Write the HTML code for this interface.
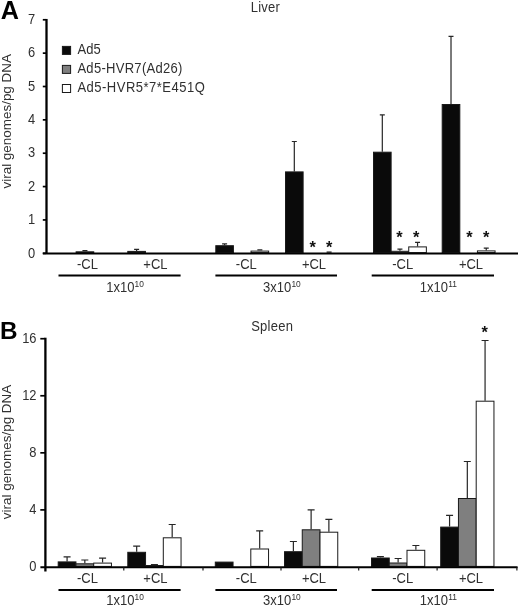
<!DOCTYPE html>
<html><head><meta charset="utf-8"><title>Chart</title>
<style>
html,body{margin:0;padding:0;background:#fff;}
body{width:520px;height:607px;overflow:hidden;}
svg{display:block;font-family:"Liberation Sans",sans-serif;will-change:transform;opacity:0.999;}
</style></head>
<body>
<svg width="520" height="607" viewBox="0 0 520 607">
<rect width="520" height="607" fill="#fff"/>
<g id="bars">
<path d="M84.93 251.30V250.60M82.43 250.60H87.43" stroke="#262626" stroke-width="1.2" fill="none"/>
<rect x="76.12" y="251.80" width="17.62" height="0.80" fill="#7f7f7f" stroke="#1a1a1a" stroke-width="1"/>
<path d="M136.61 250.90V249.40M134.11 249.40H139.11" stroke="#262626" stroke-width="1.2" fill="none"/>
<rect x="127.80" y="251.40" width="17.62" height="1.20" fill="#0a0a0a" stroke="#1a1a1a" stroke-width="1"/>
<path d="M224.61 245.20V243.80M222.11 243.80H227.11" stroke="#262626" stroke-width="1.2" fill="none"/>
<rect x="215.80" y="245.70" width="17.62" height="6.90" fill="#0a0a0a" stroke="#1a1a1a" stroke-width="1"/>
<path d="M259.85 250.60V249.80M257.35 249.80H262.35" stroke="#262626" stroke-width="1.2" fill="none"/>
<rect x="251.04" y="251.10" width="17.62" height="1.50" fill="#ffffff" stroke="#1a1a1a" stroke-width="1"/>
<path d="M294.31 171.40V141.50M291.81 141.50H296.81" stroke="#262626" stroke-width="1.2" fill="none"/>
<rect x="285.50" y="171.90" width="17.62" height="80.70" fill="#0a0a0a" stroke="#1a1a1a" stroke-width="1"/>
<path d="M382.31 151.70V114.80M379.81 114.80H384.81" stroke="#262626" stroke-width="1.2" fill="none"/>
<rect x="373.50" y="152.20" width="17.62" height="100.40" fill="#0a0a0a" stroke="#1a1a1a" stroke-width="1"/>
<path d="M399.93 250.80V249.20M397.43 249.20H402.43" stroke="#262626" stroke-width="1.2" fill="none"/>
<rect x="391.12" y="251.30" width="17.62" height="1.30" fill="#7f7f7f" stroke="#1a1a1a" stroke-width="1"/>
<path d="M417.55 246.40V242.30M415.05 242.30H420.05" stroke="#262626" stroke-width="1.2" fill="none"/>
<rect x="408.74" y="246.90" width="17.62" height="5.70" fill="#ffffff" stroke="#1a1a1a" stroke-width="1"/>
<path d="M451.01 104.00V36.30M448.51 36.30H453.51" stroke="#262626" stroke-width="1.2" fill="none"/>
<rect x="442.20" y="104.50" width="17.62" height="148.10" fill="#0a0a0a" stroke="#1a1a1a" stroke-width="1"/>
<path d="M486.25 250.40V248.10M483.75 248.10H488.75" stroke="#262626" stroke-width="1.2" fill="none"/>
<rect x="477.44" y="250.90" width="17.62" height="1.70" fill="#ffffff" stroke="#1a1a1a" stroke-width="1"/>
<rect x="326.6" y="251.5" width="5" height="1.2" fill="#111"/>
<text x="312.60" y="252.90" text-anchor="middle" font-size="16.4" font-weight="bold" fill="#111">*</text>
<text x="329.10" y="252.90" text-anchor="middle" font-size="16.4" font-weight="bold" fill="#111">*</text>
<text x="399.40" y="243.00" text-anchor="middle" font-size="16.4" font-weight="bold" fill="#111">*</text>
<text x="416.20" y="243.00" text-anchor="middle" font-size="16.4" font-weight="bold" fill="#111">*</text>
<text x="469.40" y="243.00" text-anchor="middle" font-size="16.4" font-weight="bold" fill="#111">*</text>
<text x="486.20" y="243.00" text-anchor="middle" font-size="16.4" font-weight="bold" fill="#111">*</text>
<path d="M67.08 561.40V556.80M63.58 556.80H70.58" stroke="#262626" stroke-width="1.2" fill="none"/>
<rect x="58.20" y="561.90" width="17.75" height="4.50" fill="#0a0a0a" stroke="#1a1a1a" stroke-width="1"/>
<path d="M84.83 563.30V560.00M81.33 560.00H88.33" stroke="#262626" stroke-width="1.2" fill="none"/>
<rect x="75.95" y="563.80" width="17.75" height="2.60" fill="#7f7f7f" stroke="#1a1a1a" stroke-width="1"/>
<path d="M102.58 562.60V558.20M99.08 558.20H106.08" stroke="#262626" stroke-width="1.2" fill="none"/>
<rect x="93.70" y="563.10" width="17.75" height="3.30" fill="#ffffff" stroke="#1a1a1a" stroke-width="1"/>
<path d="M136.68 551.80V546.20M133.18 546.20H140.18" stroke="#262626" stroke-width="1.2" fill="none"/>
<rect x="127.80" y="552.30" width="17.75" height="14.10" fill="#0a0a0a" stroke="#1a1a1a" stroke-width="1"/>
<path d="M154.43 565.00V564.60M150.93 564.60H157.93" stroke="#262626" stroke-width="1.2" fill="none"/>
<rect x="145.55" y="565.50" width="17.75" height="0.90" fill="#7f7f7f" stroke="#1a1a1a" stroke-width="1"/>
<path d="M172.18 537.30V524.50M168.68 524.50H175.68" stroke="#262626" stroke-width="1.2" fill="none"/>
<rect x="163.30" y="537.80" width="17.75" height="28.60" fill="#ffffff" stroke="#1a1a1a" stroke-width="1"/>
<rect x="215.30" y="562.10" width="17.75" height="4.30" fill="#0a0a0a" stroke="#1a1a1a" stroke-width="1"/>
<path d="M259.68 548.50V530.80M256.18 530.80H263.18" stroke="#262626" stroke-width="1.2" fill="none"/>
<rect x="250.80" y="549.00" width="17.75" height="17.40" fill="#ffffff" stroke="#1a1a1a" stroke-width="1"/>
<path d="M293.38 551.20V541.50M289.88 541.50H296.88" stroke="#262626" stroke-width="1.2" fill="none"/>
<rect x="284.50" y="551.70" width="17.75" height="14.70" fill="#0a0a0a" stroke="#1a1a1a" stroke-width="1"/>
<path d="M311.12 529.30V509.80M307.62 509.80H314.62" stroke="#262626" stroke-width="1.2" fill="none"/>
<rect x="302.25" y="529.80" width="17.75" height="36.60" fill="#7f7f7f" stroke="#1a1a1a" stroke-width="1"/>
<path d="M328.88 531.70V519.40M325.38 519.40H332.38" stroke="#262626" stroke-width="1.2" fill="none"/>
<rect x="320.00" y="532.20" width="17.75" height="34.20" fill="#ffffff" stroke="#1a1a1a" stroke-width="1"/>
<path d="M380.38 557.50V556.60M376.88 556.60H383.88" stroke="#262626" stroke-width="1.2" fill="none"/>
<rect x="371.50" y="558.00" width="17.75" height="8.40" fill="#0a0a0a" stroke="#1a1a1a" stroke-width="1"/>
<path d="M398.12 562.50V558.50M394.62 558.50H401.62" stroke="#262626" stroke-width="1.2" fill="none"/>
<rect x="389.25" y="563.00" width="17.75" height="3.40" fill="#7f7f7f" stroke="#1a1a1a" stroke-width="1"/>
<path d="M415.88 549.80V545.50M412.38 545.50H419.38" stroke="#262626" stroke-width="1.2" fill="none"/>
<rect x="407.00" y="550.30" width="17.75" height="16.10" fill="#ffffff" stroke="#1a1a1a" stroke-width="1"/>
<path d="M449.57 526.60V515.30M446.07 515.30H453.07" stroke="#262626" stroke-width="1.2" fill="none"/>
<rect x="440.70" y="527.10" width="17.75" height="39.30" fill="#0a0a0a" stroke="#1a1a1a" stroke-width="1"/>
<path d="M467.32 498.00V461.50M463.82 461.50H470.82" stroke="#262626" stroke-width="1.2" fill="none"/>
<rect x="458.45" y="498.50" width="17.75" height="67.90" fill="#7f7f7f" stroke="#1a1a1a" stroke-width="1"/>
<path d="M485.07 400.70V340.50M481.57 340.50H488.57" stroke="#262626" stroke-width="1.2" fill="none"/>
<rect x="476.20" y="401.20" width="17.75" height="165.20" fill="#ffffff" stroke="#1a1a1a" stroke-width="1"/>
<text x="484.70" y="337.80" text-anchor="middle" font-size="16.4" font-weight="bold" fill="#111">*</text>
</g>
<g id="axes">
<path d="M46.5 18.95V253.6" stroke="#000" stroke-width="2.3" fill="none"/>
<path d="M42.8 253.6H518" stroke="#000" stroke-width="2" fill="none"/>
<path d="M42.8 253.30H46" stroke="#000" stroke-width="1.7"/>
<text transform="translate(35.30 257.50) scale(1 1.08)" font-size="12.9" text-anchor="end" fill="#303030">0</text>
<path d="M42.8 219.94H46" stroke="#000" stroke-width="1.7"/>
<text transform="translate(35.30 224.14) scale(1 1.08)" font-size="12.9" text-anchor="end" fill="#303030">1</text>
<path d="M42.8 186.58H46" stroke="#000" stroke-width="1.7"/>
<text transform="translate(35.30 190.78) scale(1 1.08)" font-size="12.9" text-anchor="end" fill="#303030">2</text>
<path d="M42.8 153.22H46" stroke="#000" stroke-width="1.7"/>
<text transform="translate(35.30 157.42) scale(1 1.08)" font-size="12.9" text-anchor="end" fill="#303030">3</text>
<path d="M42.8 119.86H46" stroke="#000" stroke-width="1.7"/>
<text transform="translate(35.30 124.06) scale(1 1.08)" font-size="12.9" text-anchor="end" fill="#303030">4</text>
<path d="M42.8 86.50H46" stroke="#000" stroke-width="1.7"/>
<text transform="translate(35.30 90.70) scale(1 1.08)" font-size="12.9" text-anchor="end" fill="#303030">5</text>
<path d="M42.8 53.14H46" stroke="#000" stroke-width="1.7"/>
<text transform="translate(35.30 57.34) scale(1 1.08)" font-size="12.9" text-anchor="end" fill="#303030">6</text>
<path d="M42.8 19.78H46" stroke="#000" stroke-width="1.7"/>
<text transform="translate(35.30 23.98) scale(1 1.08)" font-size="12.9" text-anchor="end" fill="#303030">7</text>
<path d="M45.4 337.7V571.5" stroke="#000" stroke-width="2.3" fill="none"/>
<path d="M40.4 567.15H517.6" stroke="#000" stroke-width="2" fill="none"/>
<text transform="translate(36.50 570.95) scale(1 1.08)" font-size="12.9" text-anchor="end" fill="#303030">0</text>
<path d="M40.3 509.89H45" stroke="#000" stroke-width="1.7"/>
<text transform="translate(36.50 513.89) scale(1 1.08)" font-size="12.9" text-anchor="end" fill="#303030">4</text>
<path d="M40.3 452.83H45" stroke="#000" stroke-width="1.7"/>
<text transform="translate(36.50 456.83) scale(1 1.08)" font-size="12.9" text-anchor="end" fill="#303030">8</text>
<path d="M40.3 395.77H45" stroke="#000" stroke-width="1.7"/>
<text transform="translate(36.50 399.77) scale(1 1.08)" font-size="12.9" text-anchor="end" fill="#303030">12</text>
<path d="M40.3 338.71H45" stroke="#000" stroke-width="1.7"/>
<text transform="translate(36.50 342.71) scale(1 1.08)" font-size="12.9" text-anchor="end" fill="#303030">16</text>
<path d="M123.8 567V570.6" stroke="#111" stroke-width="1.15"/>
<path d="M203.0 567V570.6" stroke="#111" stroke-width="1.15"/>
<path d="M281.0 567V570.6" stroke="#111" stroke-width="1.15"/>
<path d="M358.7 567V570.6" stroke="#111" stroke-width="1.15"/>
<path d="M437.1 567V570.6" stroke="#111" stroke-width="1.15"/>
<path d="M516.9 567V570.6" stroke="#111" stroke-width="1.15"/>
</g>
<g id="labels">
<path d="M58.5 275.6H180.6" stroke="#000" stroke-width="2"/>
<path d="M215.4 275.6H337" stroke="#000" stroke-width="2"/>
<path d="M371.7 275.6H494" stroke="#000" stroke-width="2"/>
<text transform="translate(87.50 268.70) scale(1 1.07)" font-size="13" text-anchor="middle" fill="#303030">-CL</text>
<text transform="translate(246.30 268.70) scale(1 1.07)" font-size="13" text-anchor="middle" fill="#303030">-CL</text>
<text transform="translate(402.70 268.70) scale(1 1.07)" font-size="13" text-anchor="middle" fill="#303030">-CL</text>
<text transform="translate(155.40 268.70) scale(1 1.07)" font-size="13" text-anchor="middle" fill="#303030">+CL</text>
<text transform="translate(314.00 268.70) scale(1 1.07)" font-size="13" text-anchor="middle" fill="#303030">+CL</text>
<text transform="translate(471.00 268.70) scale(1 1.07)" font-size="13" text-anchor="middle" fill="#303030">+CL</text>
<text transform="translate(106.20 292.00) scale(1 1.07)" font-size="13" fill="#303030">1x10<tspan font-size="8.4" dy="-4.7" dx="0.2">10</tspan></text>
<text transform="translate(263.00 292.00) scale(1 1.07)" font-size="13" fill="#303030">3x10<tspan font-size="8.4" dy="-4.7" dx="0.2">10</tspan></text>
<text transform="translate(419.80 292.00) scale(1 1.07)" font-size="13" fill="#303030">1x10<tspan font-size="8.4" dy="-4.7" dx="0.2">11</tspan></text>
<path d="M58.5 589.9H180.6" stroke="#000" stroke-width="2"/>
<path d="M215.4 589.9H337" stroke="#000" stroke-width="2"/>
<path d="M371.7 589.9H494" stroke="#000" stroke-width="2"/>
<text transform="translate(87.50 583.20) scale(1 1.07)" font-size="13" text-anchor="middle" fill="#303030">-CL</text>
<text transform="translate(246.30 583.20) scale(1 1.07)" font-size="13" text-anchor="middle" fill="#303030">-CL</text>
<text transform="translate(402.70 583.20) scale(1 1.07)" font-size="13" text-anchor="middle" fill="#303030">-CL</text>
<text transform="translate(155.40 583.20) scale(1 1.07)" font-size="13" text-anchor="middle" fill="#303030">+CL</text>
<text transform="translate(314.00 583.20) scale(1 1.07)" font-size="13" text-anchor="middle" fill="#303030">+CL</text>
<text transform="translate(471.00 583.20) scale(1 1.07)" font-size="13" text-anchor="middle" fill="#303030">+CL</text>
<text transform="translate(106.20 604.80) scale(1 1.07)" font-size="13" fill="#303030">1x10<tspan font-size="8.4" dy="-4.7" dx="0.2">10</tspan></text>
<text transform="translate(263.00 604.80) scale(1 1.07)" font-size="13" fill="#303030">3x10<tspan font-size="8.4" dy="-4.7" dx="0.2">10</tspan></text>
<text transform="translate(419.80 604.80) scale(1 1.07)" font-size="13" fill="#303030">1x10<tspan font-size="8.4" dy="-4.7" dx="0.2">11</tspan></text>
</g>
<g id="legend">
<rect x="62.4" y="46.4" width="8.2" height="8" fill="#0a0a0a" stroke="#1a1a1a" stroke-width="1"/>
<text transform="translate(77.40 53.60) scale(1 1.07)" font-size="13" letter-spacing="0.15" fill="#303030">Ad5</text>
<rect x="62.4" y="65.4" width="8.2" height="8" fill="#7f7f7f" stroke="#1a1a1a" stroke-width="1"/>
<text transform="translate(77.40 73.10) scale(1 1.07)" font-size="13" letter-spacing="0.3" fill="#303030">Ad5-HVR7(Ad26)</text>
<rect x="62.4" y="84.5" width="8.2" height="8" fill="#ffffff" stroke="#1a1a1a" stroke-width="1"/>
<text transform="translate(77.40 92.00) scale(1 1.07)" font-size="13" letter-spacing="0.5" fill="#303030">Ad5-HVR5*7*E451Q</text>
</g>
<g id="misc">
<text transform="translate(250.80 12.10) scale(1 1.07)" font-size="13" letter-spacing="0.2" fill="#303030">Liver</text>
<text transform="translate(251.20 331.10) scale(1 1.07)" font-size="13" letter-spacing="0.25" fill="#303030">Spleen</text>
<text x="0.7" y="18.8" font-size="25.2" font-weight="bold" fill="#000">A</text>
<text x="0.1" y="339.3" font-size="24.3" font-weight="bold" fill="#000">B</text>
<text transform="translate(10.8 188.5) rotate(-90)" font-size="13.45" fill="#303030">viral genomes/pg DNA</text>
<text transform="translate(10.8 519.2) rotate(-90)" font-size="13.45" fill="#303030">viral genomes/pg DNA</text>
</g>
</svg>
</body></html>
